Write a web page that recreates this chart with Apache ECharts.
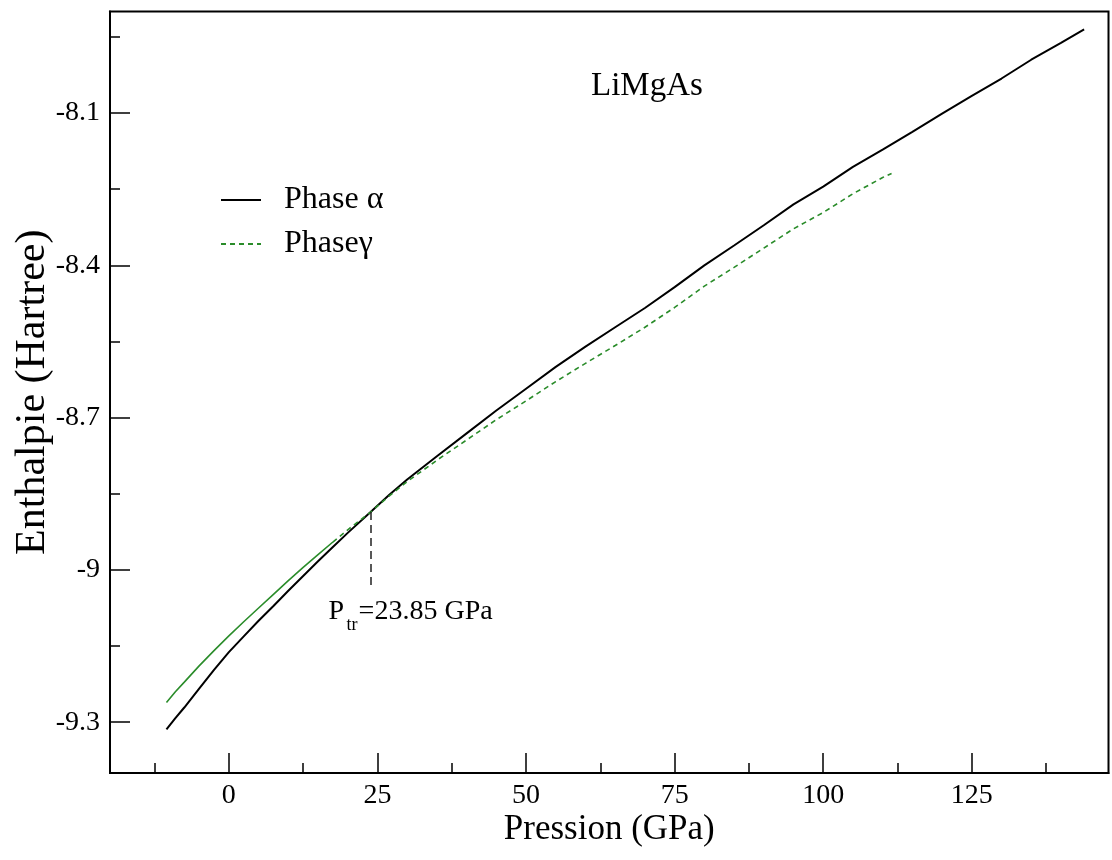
<!DOCTYPE html>
<html><head><meta charset="utf-8">
<script src="https://cdn.jsdelivr.net/npm/echarts@6/dist/echarts.min.js"></script>
<style>html,body{margin:0;padding:0;background:#fff}#c{width:1112px;height:860px}</style>
</head><body><div id="c"></div>
<script>
const FONT = "'Liberation Serif','Times New Roman',Times,serif";

// Phase alpha (black solid)
const alphaP = [-10.5, -9, -7.5, -5, -2.5, 0, 2.5, 5, 7.5, 10, 12.5, 15, 17.5, 20, 23.85, 27, 30, 35, 40, 45, 50, 55, 60, 65, 70, 75, 80, 85, 90, 95, 100, 105, 110, 115, 120, 125, 130, 135, 140, 143.9];
const alphaE = [-9.314, -9.292, -9.271, -9.234, -9.197, -9.162, -9.131, -9.100, -9.071, -9.041, -9.012, -8.983, -8.955, -8.927, -8.886, -8.852, -8.822, -8.776, -8.731, -8.686, -8.643, -8.600, -8.560, -8.522, -8.484, -8.443, -8.400, -8.361, -8.321, -8.280, -8.245, -8.206, -8.172, -8.137, -8.101, -8.066, -8.032, -7.995, -7.962, -7.935];

// Phase gamma (green)
const gammaP = [-10.5, -9, -7.5, -5, -2.5, 0, 2.5, 5, 7.5, 10, 12.5, 15, 17.5, 20, 23.85, 27, 30, 35, 40, 45, 50, 55, 60, 65, 70, 75, 80, 85, 90, 95, 100, 105, 110, 111.5];
const gammaE = [-9.261, -9.240, -9.221, -9.189, -9.159, -9.130, -9.102, -9.075, -9.048, -9.021, -8.995, -8.970, -8.945, -8.921, -8.886, -8.854, -8.826, -8.784, -8.744, -8.704, -8.667, -8.629, -8.593, -8.558, -8.522, -8.483, -8.441, -8.404, -8.366, -8.328, -8.296, -8.259, -8.227, -8.219];

// axis ticks
const xMajorTicks = [0, 25, 50, 75, 100, 125];
const xMinorTicks = [-12.5, 12.5, 37.5, 62.5, 87.5, 112.5, 137.5];
const yMajorTicks = [-9.3, -9, -8.7, -8.4, -8.1];
const yMinorTicks = [-9.15, -8.85, -8.55, -8.25, -7.95];

// transition annotation
const pTransition = 23.85;
const hTransition = -8.886;
const hMarkerEnd = -9.038;
const gammaSolidUntil = 17.5; // green drawn solid at low pressure, dashed above

const zip = (xs, ys) => xs.map((x, i) => [x, ys[i]]);
const alphaData = zip(alphaP, alphaE);
const gammaData = zip(gammaP, gammaE);
const gammaDashed = gammaData.filter(d => d[0] >= gammaSolidUntil);
const gammaSolid = gammaData.filter(d => d[0] <= gammaSolidUntil);

const GREEN = '#2a8c2a';
const chart = echarts.init(document.getElementById('c'), null, {renderer: 'canvas'});

const baseX = {type: 'value', min: -20, max: 148, position: 'bottom', splitLine: {show: false}};
const baseY = {type: 'value', min: -9.4, max: -7.9, position: 'left', splitLine: {show: false}};

const option = {
  backgroundColor: '#fff',
  animation: false,
  textStyle: {fontFamily: FONT},
  title: {
    text: 'LiMgAs', left: 591, top: 70, padding: 0,
    textStyle: {fontFamily: FONT, fontSize: 33, fontWeight: 'normal', color: '#000', lineHeight: 33}
  },
  grid: {left: 110, right: 3.5, top: 11.5, bottom: 87, containLabel: false, outerBoundsMode: 'none',
    show: true, borderColor: '#000', borderWidth: 2, backgroundColor: 'transparent'},
  legend: {
    orient: 'vertical', left: 220, top: 184, padding: 0,
    itemWidth: 40, itemHeight: 20, itemGap: 12,
    data: ['Phase α', 'Phaseγ'],
    itemStyle: {opacity: 0, borderWidth: 0},
    textStyle: {fontFamily: FONT, fontSize: 32, color: '#000', lineHeight: 32, padding: [0, 0, 0, 18]}
  },
  xAxis: [
    Object.assign({}, baseX, {
      name: 'Pression (GPa)', nameLocation: 'middle', nameGap: 39, nameMoveOverlap: false,
      nameTextStyle: {fontFamily: FONT, fontSize: 35, color: '#000', lineHeight: 35},
      axisLine: {show: true, onZero: false, lineStyle: {color: '#000', width: 2}},
      axisTick: {show: true, inside: true, length: 20, customValues: xMajorTicks, lineStyle: {color: '#000', width: 1.5}},
      axisLabel: {show: true, margin: 9, customValues: xMajorTicks, fontFamily: FONT, fontSize: 28, color: '#000'}
    }),
    Object.assign({}, baseX, {
      axisLine: {show: false, onZero: false},
      axisTick: {show: true, inside: true, length: 10, customValues: xMinorTicks, lineStyle: {color: '#000', width: 1.5}},
      axisLabel: {show: false}
    })
  ],
  yAxis: [
    Object.assign({}, baseY, {
      name: 'Enthalpie (Hartree)', nameLocation: 'middle', nameGap: 56, nameMoveOverlap: false,
      nameTextStyle: {fontFamily: FONT, fontSize: 42, color: '#000', lineHeight: 42},
      axisLine: {show: true, onZero: false, lineStyle: {color: '#000', width: 2}},
      axisTick: {show: true, inside: true, length: 20, customValues: yMajorTicks, lineStyle: {color: '#000', width: 1.5}},
      axisLabel: {show: true, margin: 10, customValues: yMajorTicks, fontFamily: FONT, fontSize: 28, color: '#000',
        formatter: v => String(Math.round(v * 10) / 10)}
    }),
    Object.assign({}, baseY, {
      axisLine: {show: false, onZero: false},
      axisTick: {show: true, inside: true, length: 10, customValues: yMinorTicks, lineStyle: {color: '#000', width: 1.5}},
      axisLabel: {show: false}
    })
  ],
  series: [
    {
      name: 'Phase α', type: 'line', xAxisIndex: 0, yAxisIndex: 0, data: alphaData,
      symbol: 'none', smooth: false, z: 3,
      lineStyle: {color: '#000', width: 2}, itemStyle: {color: '#000'},
      markLine: {
        silent: true, symbol: 'none', label: {show: false},
        lineStyle: {color: '#222', width: 1.5, type: [8, 5]},
        data: [[{coord: [pTransition, hTransition]}, {coord: [pTransition, hMarkerEnd]}]]
      }
    },
    {
      name: 'Phaseγ', type: 'line', xAxisIndex: 0, yAxisIndex: 0, data: gammaDashed,
      symbol: 'none', smooth: false, z: 4,
      lineStyle: {color: GREEN, width: 1.6, type: [5, 4]}, itemStyle: {color: GREEN}
    },
    {
      name: 'Phaseγ', type: 'line', xAxisIndex: 0, yAxisIndex: 0, data: gammaSolid,
      symbol: 'none', smooth: false, z: 4,
      lineStyle: {color: GREEN, width: 1.6}, itemStyle: {color: GREEN}
    }
  ]
};
chart.setOption(option);

// annotation text anchored at the bottom of the transition marker
const anchor = chart.convertToPixel({xAxisIndex: 0, yAxisIndex: 0}, [pTransition, hMarkerEnd]);
chart.setOption({
  graphic: [{
    type: 'group', x: anchor[0], y: anchor[1],
    children: [
      {type: 'text', x: -42, y: 22.5, style: {text: 'P', font: '28px ' + FONT, fill: '#000', align: 'left', verticalAlign: 'middle'}},
      {type: 'text', x: -24, y: 36, style: {text: 'tr', font: '18px ' + FONT, fill: '#000', align: 'left', verticalAlign: 'middle'}},
      {type: 'text', x: -12, y: 22.5, style: {text: '=23.85 GPa', font: '28px ' + FONT, fill: '#000', align: 'left', verticalAlign: 'middle'}}
    ]
  }]
});
</script>
</body></html>
